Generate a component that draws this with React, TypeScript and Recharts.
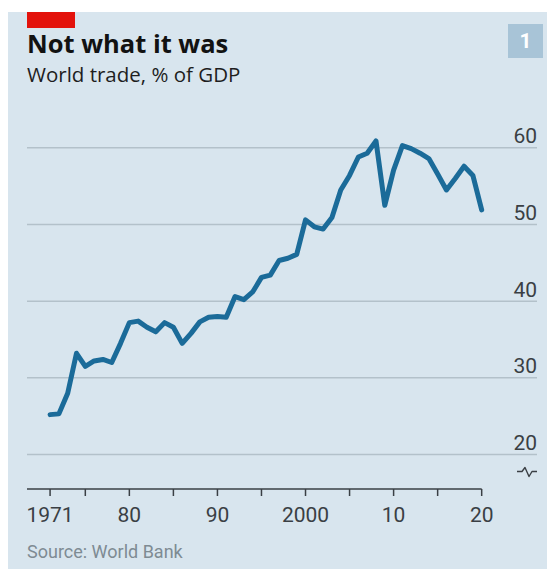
import React from 'react';
import { LineChart, Line, XAxis, YAxis, CartesianGrid, ReferenceLine } from 'recharts';

const years = [
  1971, 1972, 1973, 1974, 1975, 1976, 1977, 1978, 1979, 1980,
  1981, 1982, 1983, 1984, 1985, 1986, 1987, 1988, 1989, 1990,
  1991, 1992, 1993, 1994, 1995, 1996, 1997, 1998, 1999, 2000,
  2001, 2002, 2003, 2004, 2005, 2006, 2007, 2008, 2009, 2010,
  2011, 2012, 2013, 2014, 2015, 2016, 2017, 2018, 2019, 2020,
];

const tradePctGdp = [
  25.2, 25.3, 28.0, 33.2, 31.5, 32.2, 32.4, 32.0, 34.5, 37.2,
  37.4, 36.6, 36.0, 37.2, 36.6, 34.5, 35.8, 37.3, 37.9, 38.0,
  37.9, 40.6, 40.2, 41.2, 43.1, 43.4, 45.3, 45.6, 46.1, 50.6,
  49.7, 49.4, 50.9, 54.5, 56.4, 58.8, 59.3, 60.9, 52.5, 57.1,
  60.3, 59.9, 59.3, 58.6, 56.6, 54.5, 56.0, 57.6, 56.4, 51.9,
];

const xTicks = [1971, 1975, 1980, 1985, 1990, 1995, 2000, 2005, 2010, 2015, 2020];
const xTickLabels: Record<number, string> = {
  1971: '1971',
  1980: '80',
  1990: '90',
  2000: '2000',
  2010: '10',
  2020: '20',
};
const yTicks = [20, 30, 40, 50, 60];

const title = 'Not what it was';
const subtitle = 'World trade, % of GDP';
const source = 'Source: World Bank';
const chartNumber = '1';

const data = years.map((year, i) => ({ year, value: tradePctGdp[i] }));

const FONT = "Roboto, 'Noto Sans', sans-serif";
const HEAD_FONT = "'Open Sans', Roboto, sans-serif";
const BG = '#d8e5ee';
const LINE = '#1b6b99';
const GRID = '#b3c1ca';
const AXIS = '#3a3f44';
const LABEL = '#3a3f44';

const X_MIN = 1968.38;
const X_MAX = 2026.28;
const Y_MIN = 15.5;
const Y_MAX = 62;

const XTick = (props: any) => {
  const { x, y, payload } = props;
  const label = xTickLabels[payload.value] ?? '';
  if (!label) return null;
  return (
    <text x={x} y={y} dy={24} textAnchor="middle" fill={LABEL} fontSize={21} fontFamily={FONT}>
      {label}
    </text>
  );
};

const YTick = (props: any) => {
  const { x, y, payload } = props;
  return (
    <g>
      <text x={x} y={y} dy={-4.5} textAnchor="end" fill={LABEL} fontSize={21} fontFamily={FONT}>
        {payload.value}
      </text>
      {payload.value === yTicks[0] ? (
        <path
          d={`M${x - 20},${y + 17} l5,0 l3,-4 l4,9 l3,-5 l5,0`}
          fill="none"
          stroke={AXIS}
          strokeWidth={1.4}
          strokeLinejoin="round"
        />
      ) : null}
    </g>
  );
};

export default function App() {
  return (
    <div style={{ position: 'absolute', left: 0, top: 0, width: 547, height: 570, overflow: 'hidden' }}>
      <div style={{ position: 'absolute', left: 8, top: 12, width: 539, height: 557, background: BG }} />
      <div style={{ position: 'absolute', left: 0, top: 0 }}>
        <LineChart width={547} height={570} data={data} margin={{ top: 132.5, right: 0, bottom: 41, left: 27 }}>
          <CartesianGrid vertical={false} horizontalValues={yTicks} stroke={GRID} strokeWidth={1.5} />
          <XAxis
            dataKey="year"
            type="number"
            domain={[X_MIN, X_MAX]}
            allowDataOverflow
            ticks={xTicks}
            interval={0}
            axisLine={false}
            tickLine={{ stroke: AXIS, strokeWidth: 1.5 }}
            tickSize={7}
            tickMargin={2}
            height={40}
            tick={<XTick />}
          />
          <YAxis
            orientation="right"
            type="number"
            domain={[Y_MIN, Y_MAX]}
            allowDataOverflow
            ticks={yTicks}
            interval={0}
            width={10}
            axisLine={false}
            tickLine={false}
            tickSize={0}
            tickMargin={0}
            tick={<YTick />}
          />
          <ReferenceLine
            segment={[
              { x: X_MIN, y: Y_MIN },
              { x: years[years.length - 1], y: Y_MIN },
            ]}
            stroke={AXIS}
            strokeWidth={1.5}
            ifOverflow="visible"
          />
          <Line
            type="linear"
            dataKey="value"
            stroke={LINE}
            strokeWidth={5}
            strokeLinejoin="round"
            strokeLinecap="round"
            dot={false}
            activeDot={false}
            isAnimationActive={false}
          />
        </LineChart>
      </div>
      <svg width={547} height={570} style={{ position: 'absolute', left: 0, top: 0, pointerEvents: 'none' }}>
        <rect x={27} y={12} width={48} height={16} fill="#e3120b" />
        <text x={27} y={53} fontFamily={HEAD_FONT} fontWeight={700} fontSize={25.5} fill="#121212">
          {title}
        </text>
        <text x={27} y={82} fontFamily={HEAD_FONT} fontSize={20.5} fill="#1e1e1e">
          {subtitle}
        </text>
        <rect x={508} y={24} width={35} height={34} fill="#a8c4d7" />
        <text x={525.5} y={48} textAnchor="middle" fontFamily={FONT} fontWeight={700} fontSize={21} fill="#ffffff">
          {chartNumber}
        </text>
        <text x={27} y={558} fontFamily={FONT} fontSize={18} fill="#7e8b93">
          {source}
        </text>
      </svg>
    </div>
  );
}
